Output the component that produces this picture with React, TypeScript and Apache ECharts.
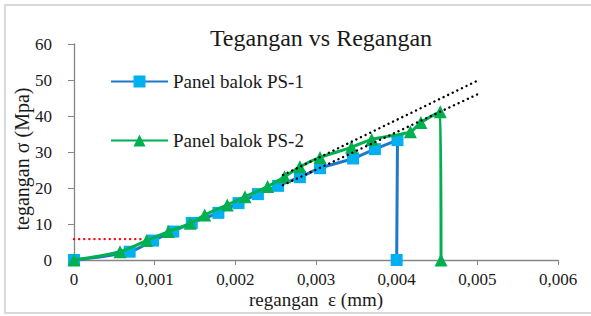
import React, { useEffect, useRef } from "react";
import * as echarts from "echarts";

const titleText = "Tegangan vs Regangan";
const xName = "regangan  ε (mm)";
const yName = "tegangan σ (Mpa)";
const seriesNames = ["Panel balok PS-1", "Panel balok PS-2"];

const ps1Strain = [0, 0.00069, 0.00098, 0.00123, 0.00146, 0.00179, 0.00204, 0.00228, 0.00253, 0.0028, 0.00305, 0.00346, 0.00373, 0.00401, 0.004];
const ps1Stress = [0, 2.3, 5.4, 7.9, 10.3, 13.1, 15.8, 18.3, 20.6, 23.0, 25.5, 28.2, 30.8, 33.3, 0];

const ps2Strain = [0, 0.00057, 0.0009, 0.00117, 0.00144, 0.00162, 0.0019, 0.00212, 0.0024, 0.00261, 0.0028, 0.00305, 0.00344, 0.00369, 0.00417, 0.0043, 0.00454, 0.00455];
const ps2Stress = [0, 2.3, 5.4, 7.9, 10.2, 12.5, 15.3, 17.6, 20.4, 23.1, 25.9, 28.5, 31.3, 33.5, 35.6, 38.2, 41.2, 0];

const trendUpperX = [0.00259, 0.005];
const trendUpperY = [23.6, 49.8];
const trendLowerX = [0.00259, 0.005];
const trendLowerY = [20.8, 46.0];
const crackX = [0, 0.00086];
const crackY = [5.8, 5.8];

const zip = (xs: number[], ys: number[]) => xs.map((x, i) => [x, ys[i]]);

const FONT = "Liberation Serif";
const TEXT = "#1a1a1a";

export default function App() {
  const ref = useRef<HTMLDivElement>(null);
  useEffect(() => {
    if (!ref.current) return;
    const chart = echarts.init(ref.current, undefined, { renderer: "svg" });
    const dotted = (color: string) => ({
      color,
      width: 2.4,
      type: [0.1, 5] as any,
      cap: "round" as const,
    });
    chart.setOption({
      animation: false,
      backgroundColor: "#ffffff",
      textStyle: { fontFamily: FONT },
      title: {
        text: titleText,
        left: 316,
        textAlign: "center",
        top: 21,
        textStyle: { fontFamily: FONT, fontSize: 24, fontWeight: "normal", color: TEXT },
      },
      legend: {
        data: seriesNames,
        orient: "vertical",
        left: 105,
        top: 67,
        itemWidth: 57,
        itemHeight: 15,
        itemGap: 40,
        textStyle: { fontFamily: FONT, fontSize: 19, color: TEXT },
      },
      graphic: [
        {
          type: "rect",
          shape: { x: 5, y: 5, width: 600, height: 308 },
          style: { fill: "none", stroke: "#d9d9d9", lineWidth: 2 },
          silent: true,
        },
      ],
      grid: {
        left: 74,
        right: 33,
        top: 44,
        bottom: 56,
        containLabel: false,
        outerBoundsMode: "none",
      },
      xAxis: {
        type: "value",
        min: 0,
        max: 0.006,
        interval: 0.001,
        name: xName,
        nameLocation: "middle",
        nameGap: 30,
        nameMoveOverlap: false,
        nameTextStyle: { fontFamily: FONT, fontSize: 19, color: TEXT },
        splitLine: { show: false },
        axisLine: { show: true, lineStyle: { color: "#868686", width: 1.3 } },
        axisTick: { show: true, length: 5, lineStyle: { color: "#868686" } },
        axisLabel: {
          fontFamily: FONT,
          fontSize: 17,
          color: TEXT,
          margin: 11,
          formatter: (v: number) => (v === 0 ? "0" : v.toFixed(3).replace(".", ",")),
        },
      },
      yAxis: {
        type: "value",
        min: 0,
        max: 60,
        interval: 10,
        name: yName,
        nameLocation: "middle",
        nameGap: 42,
        nameMoveOverlap: false,
        nameTextStyle: { fontFamily: FONT, fontSize: 20, color: TEXT, padding: [0, 14, 0, 0] },
        splitLine: { show: false },
        axisLine: { show: true, lineStyle: { color: "#868686", width: 1.3 } },
        axisTick: { show: true, length: 6, lineStyle: { color: "#868686" } },
        axisLabel: { fontFamily: FONT, fontSize: 17, color: TEXT, margin: 22 },
      },
      series: [
        {
          name: "crack",
          type: "line",
          data: zip(crackX, crackY),
          symbol: "none",
          lineStyle: dotted("#ff0000"),
          silent: true,
          z: 1,
        },
        {
          name: "trendUpper",
          type: "line",
          data: zip(trendUpperX, trendUpperY),
          symbol: "none",
          lineStyle: dotted("#000000"),
          silent: true,
          z: 5,
        },
        {
          name: "trendLower",
          type: "line",
          data: zip(trendLowerX, trendLowerY),
          symbol: "none",
          lineStyle: dotted("#000000"),
          silent: true,
          z: 5,
        },
        {
          name: seriesNames[0],
          type: "line",
          data: zip(ps1Strain, ps1Stress),
          smooth: 0.3,
          symbol: "rect",
          symbolSize: 12,
          showAllSymbol: true,
          itemStyle: { color: "#00b0f0" },
          lineStyle: { color: "#1f78c8", width: 3 },
          z: 2,
        },
        {
          name: seriesNames[1],
          type: "line",
          data: zip(ps2Strain, ps2Stress),
          smooth: 0.3,
          symbol: "triangle",
          symbolSize: 13,
          showAllSymbol: true,
          itemStyle: { color: "#00b050" },
          lineStyle: { color: "#00b050", width: 3 },
          z: 3,
        },
      ],
    });
    return () => chart.dispose();
  }, []);
  return (
    <div
      ref={ref}
      style={{ position: "fixed", left: 0, top: 0, width: 591, height: 316, background: "#fff" }}
    />
  );
}
